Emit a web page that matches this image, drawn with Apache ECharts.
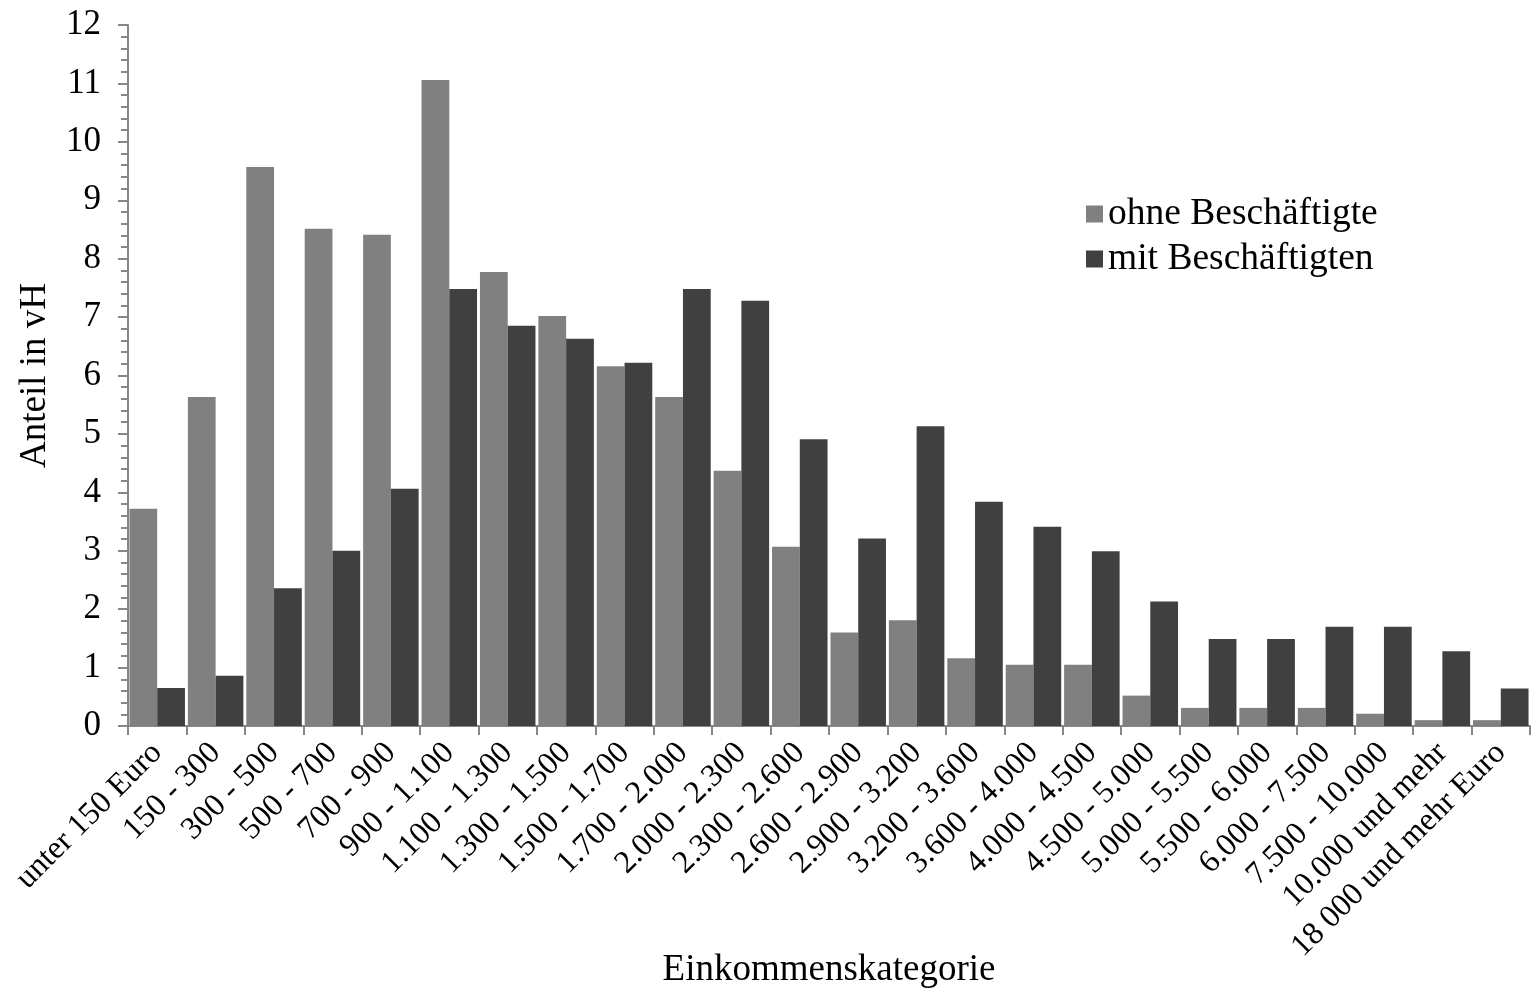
<!DOCTYPE html>
<html>
<head>
<meta charset="utf-8">
<script src="https://cdn.jsdelivr.net/npm/echarts@6/dist/echarts.min.js"></script>
<style>
html,body{margin:0;padding:0;background:#fff;}
#chart{width:1531px;height:989px;}
</style>
</head>
<body>
<div id="chart"></div>
<script>
const categories = ["unter 150 Euro","150 - 300","300 - 500","500 - 700","700 - 900","900 - 1.100","1.100 - 1.300","1.300 - 1.500","1.500 - 1.700","1.700 - 2.000","2.000 - 2.300","2.300 - 2.600","2.600 - 2.900","2.900 - 3.200","3.200 - 3.600","3.600 - 4.000","4.000 - 4.500","4.500 - 5.000","5.000 - 5.500","5.500 - 6.000","6.000 - 7.500","7.500 - 10.000","10.000 und mehr","18 000 und mehr Euro"];
const ohneBeschaeftigte = [3.72,5.63,9.57,8.51,8.41,11.06,7.77,7.02,6.16,5.63,4.37,3.07,1.60,1.81,1.16,1.05,1.05,0.52,0.31,0.31,0.31,0.21,0.10,0.10];
const mitBeschaeftigten = [0.65,0.86,2.36,3.00,4.06,7.48,6.85,6.63,6.22,7.48,7.28,4.91,3.21,5.13,3.84,3.41,2.99,2.13,1.49,1.49,1.70,1.70,1.28,0.64];
const yTicks = [0,12,1];

const FONT = "Liberation Serif";
const axisColor = "#868686";
const chart = echarts.init(document.getElementById('chart'));
chart.setOption({
  animation: false,
  backgroundColor: '#ffffff',
  textStyle: {fontFamily: FONT, color: '#000'},
  grid: {left: 128, right: 1, top: 25, bottom: 263, containLabel: false, outerBoundsMode: 'none'},
  legend: {
    orient: 'vertical', left: 1081, top: 190,
    itemWidth: 17, itemHeight: 17, itemGap: 7,
    icon: 'rect',
    textStyle: {fontFamily: FONT, fontSize: 37.5, color: '#000', padding: [0,0,0,0]},
    data: ['ohne Beschäftigte','mit Beschäftigten']
  },
  xAxis: {
    type: 'category', data: categories,
    name: 'Einkommenskategorie', nameLocation: 'middle', nameGap: 226, nameMoveOverlap: false,
    nameTextStyle: {fontFamily: FONT, fontSize: 37, color: '#000'},
    axisLine: {lineStyle: {color: axisColor, width: 2}},
    axisTick: {show: true, length: 9, lineStyle: {color: axisColor, width: 2}},
    axisLabel: {rotate: 45, interval: 0, fontFamily: FONT, fontSize: 32, color: '#000', margin: 22}
  },
  yAxis: {
    type: 'value', min: yTicks[0], max: yTicks[1], interval: yTicks[2],
    name: 'Anteil in vH', nameLocation: 'middle', nameGap: 74, nameMoveOverlap: false,
    nameTextStyle: {fontFamily: FONT, fontSize: 37, color: '#000'},
    axisLine: {show: true, lineStyle: {color: axisColor, width: 2}},
    axisTick: {show: true, length: 10, lineStyle: {color: axisColor, width: 2}},
    minorTick: {show: true, splitNumber: 5, length: 7, lineStyle: {color: axisColor, width: 2}},
    splitLine: {show: false},
    axisLabel: {fontFamily: FONT, fontSize: 35, color: '#000', margin: 27}
  },
  series: [
    {name: 'ohne Beschäftigte', type: 'bar', data: ohneBeschaeftigte, barGap: '0%', barCategoryGap: '5%',
     itemStyle: {color: '#808080'}},
    {name: 'mit Beschäftigten', type: 'bar', data: mitBeschaeftigten, barGap: '0%', barCategoryGap: '5%',
     itemStyle: {color: '#404040'}}
  ]
});
</script>
</body>
</html>
